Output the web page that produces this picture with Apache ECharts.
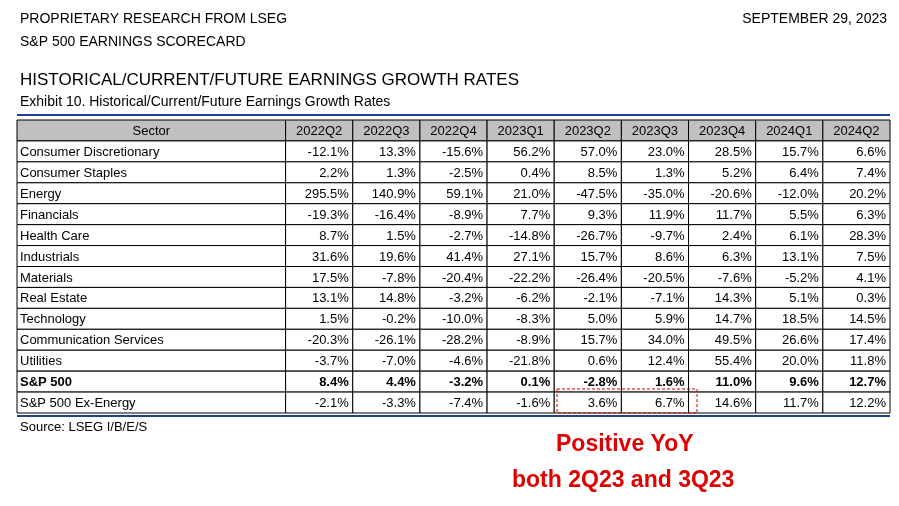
<!DOCTYPE html>
<html><head><meta charset="utf-8">
<script src="https://cdn.jsdelivr.net/npm/echarts@6/dist/echarts.min.js"></script>
<style>html,body{margin:0;padding:0;background:#fff}#c{width:899px;height:506px}</style>
</head><body><div id="c"></div>
<script>
const quarters = ['2022Q2','2022Q3','2022Q4','2023Q1','2023Q2','2023Q3','2023Q4','2024Q1','2024Q2'];
const sectors = ['Consumer Discretionary','Consumer Staples','Energy','Financials','Health Care','Industrials','Materials','Real Estate','Technology','Communication Services','Utilities','S&P 500','S&P 500 Ex-Energy'];
const values = [
 [-12.1,13.3,-15.6,56.2,57.0,23.0,28.5,15.7,6.6],
 [2.2,1.3,-2.5,0.4,8.5,1.3,5.2,6.4,7.4],
 [295.5,140.9,59.1,21.0,-47.5,-35.0,-20.6,-12.0,20.2],
 [-19.3,-16.4,-8.9,7.7,9.3,11.9,11.7,5.5,6.3],
 [8.7,1.5,-2.7,-14.8,-26.7,-9.7,2.4,6.1,28.3],
 [31.6,19.6,41.4,27.1,15.7,8.6,6.3,13.1,7.5],
 [17.5,-7.8,-20.4,-22.2,-26.4,-20.5,-7.6,-5.2,4.1],
 [13.1,14.8,-3.2,-6.2,-2.1,-7.1,14.3,5.1,0.3],
 [1.5,-0.2,-10.0,-8.3,5.0,5.9,14.7,18.5,14.5],
 [-20.3,-26.1,-28.2,-8.9,15.7,34.0,49.5,26.6,17.4],
 [-3.7,-7.0,-4.6,-21.8,0.6,12.4,55.4,20.0,11.8],
 [8.4,4.4,-3.2,0.1,-2.8,1.6,11.0,9.6,12.7],
 [-2.1,-3.3,-7.4,-1.6,3.6,6.7,14.6,11.7,12.2]
];
const boldRow = 'S&P 500';

const SECTOR_SPAN = 4;
const slots = []; for (let i = 0; i < SECTOR_SPAN + quarters.length; i++) slots.push(String(i));
const rowsCat = ['Sector'].concat(sectors);

const data = [];
data.push([0, 0, 'Sector', 'head', 0]);
quarters.forEach((q, i) => data.push([SECTOR_SPAN + i, 0, q, 'head', 0]));
sectors.forEach((s, r) => {
  const b = s === boldRow ? 1 : 0;
  data.push([0, r + 1, s, 'name', b]);
  values[r].forEach((v, i) => data.push([SECTOR_SPAN + i, r + 1, v.toFixed(1) + '%', 'num', b]));
});

const FONT = '"Liberation Sans", Arial, sans-serif';
const chart = echarts.init(document.getElementById('c'));
chart.setOption({
  animation: false,
  grid: {left: 17, right: 9, top: 120, bottom: 93},
  xAxis: {type: 'category', data: slots, show: false},
  yAxis: {type: 'category', data: rowsCat, inverse: true, show: false},
  series: [{
    type: 'custom',
    data: data,
    renderItem: function (params, api) {
      const col = api.value(0), row = api.value(1);
      const sz = api.size([1, 1]);
      const c = api.coord([col, row]);
      const kind = data[params.dataIndex][3];
      const text = data[params.dataIndex][2];
      const bold = data[params.dataIndex][4];
      let x0 = c[0] - sz[0] / 2, w = sz[0];
      if (col === 0) w = sz[0] * SECTOR_SPAN;
      const y0 = c[1] - sz[1] / 2, h = sz[1];
      let tx, align;
      if (kind === 'head') { tx = x0 + w / 2; align = 'center'; }
      else if (kind === 'name') { tx = x0 + 3; align = 'left'; }
      else { tx = x0 + w - 4; align = 'right'; }
      return {type: 'group', children: [
        {type: 'rect', shape: {x: x0, y: y0, width: w, height: h},
         style: {fill: kind === 'head' ? '#c0c0c0' : '#fff', stroke: '#000', lineWidth: 1}},
        {type: 'text', style: {x: tx, y: y0 + h / 2 + 1, text: text, textAlign: align, textVerticalAlign: 'middle',
          fill: '#000', font: (bold ? 'bold ' : '') + '13px ' + FONT}}
      ]};
    }
  }],
  graphic: [
    {type: 'text', left: 20, top: 12, style: {text: 'PROPRIETARY RESEARCH FROM LSEG', font: '14px ' + FONT, fill: '#000'}},
    {type: 'text', left: 20, top: 35, style: {text: 'S&P 500 EARNINGS SCORECARD', font: '14px ' + FONT, fill: '#000'}},
    {type: 'text', right: 12, top: 12, style: {text: 'SEPTEMBER 29, 2023', font: '14px ' + FONT, fill: '#000'}},
    {type: 'text', left: 20, top: 72, style: {text: 'HISTORICAL/CURRENT/FUTURE EARNINGS GROWTH RATES', font: '17px ' + FONT, fill: '#000'}},
    {type: 'text', left: 20, top: 95, style: {text: 'Exhibit 10. Historical/Current/Future Earnings Growth Rates', font: '14px ' + FONT, fill: '#000'}},
    {type: 'line', z: 100, shape: {x1: 17, y1: 115, x2: 890, y2: 115}, style: {stroke: '#1f3f9f', lineWidth: 2}},
    {type: 'line', z: 100, shape: {x1: 17, y1: 416, x2: 890, y2: 416}, style: {stroke: '#1f3f9f', lineWidth: 2}},
    {type: 'text', left: 20, top: 421, style: {text: 'Source: LSEG I/B/E/S', font: '13px ' + FONT, fill: '#000'}},
    {type: 'rect', z: 100, shape: {x: 557, y: 389, width: 140, height: 24}, style: {fill: 'none', stroke: '#e00000', lineWidth: 1, lineDash: [3, 2]}},
    {type: 'text', left: 556, top: 433, style: {text: 'Positive YoY', font: 'bold 23px ' + FONT, fill: '#e00000'}},
    {type: 'text', left: 512, top: 469, style: {text: 'both 2Q23 and 3Q23', font: 'bold 23px ' + FONT, fill: '#e00000'}}
  ]
});
</script></body></html>
